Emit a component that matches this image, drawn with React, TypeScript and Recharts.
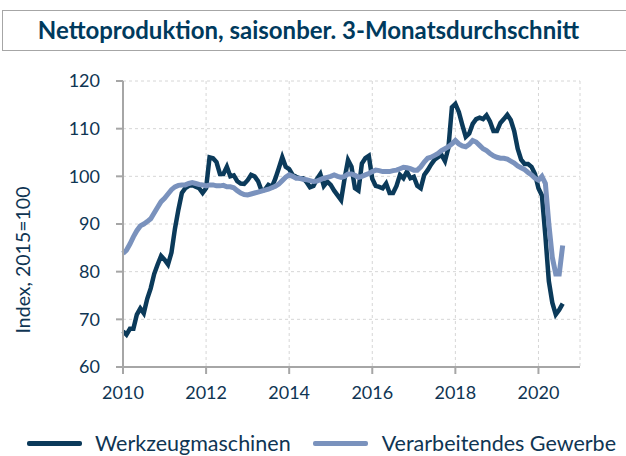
import React from 'react';
import { LineChart, Line, XAxis, YAxis, CartesianGrid } from 'recharts';

// monthly values, Jan 2010 .. Aug 2020
const werkzeugmaschinen = [
  67.5, 66.8, 68, 68, 71, 72.3, 71.3, 74.3, 76.5, 79.5, 81.5, 83.3,
  82.5, 81.5, 84, 89, 93, 96.5, 97.5, 98, 98.2, 97.8, 97.5, 96.5,
  97.5, 104, 103.8, 103, 100.5, 100.5, 102, 100, 100.2, 99, 98.5, 98.4,
  99.2, 100.3, 100, 99, 97, 97.2, 98.2, 97.8, 99.5, 101.7, 104, 102,
  101.5, 100.3, 99.9, 99.6, 99.6, 98.8, 97.7, 98, 99.4, 100.5, 98, 98.9,
  98.2, 97, 96, 95, 99.5, 103.4, 102, 97.5, 97, 102.7, 103.8, 104.3,
  99.5, 98, 97.8, 97.5, 98.5, 96.5, 96.5, 98, 100.3, 99.6, 101, 99.6,
  99.9, 98, 97.5, 100.3, 101.3, 102.5, 103.5, 104, 104.5, 103.2, 106, 114.5,
  115.2, 113.5, 110.8, 108.3, 109, 111, 112, 112.3, 112, 112.8, 111.5, 109.5,
  109.5, 111.2, 112, 112.9, 111.8, 109.5, 105.8, 103.5, 102.6, 102.6, 102, 100.5,
  97.5, 96, 87.5, 78, 73.5, 71, 72, 73.3,
];

const verarbeitendesGewerbe = [
  83.8, 84.5, 85.8, 87.3, 88.6, 89.6, 90, 90.5, 91.1, 92.3, 93.5, 94.7,
  95.4, 96.3, 97.2, 97.8, 98.1, 98.2, 98.2, 98.5, 98.7, 98.5, 98.3, 98.2,
  98, 98.2, 98.2, 98, 98, 98.1, 97.8, 97.8, 97.6, 97, 96.5, 96.2,
  96.1, 96.3, 96.5, 96.7, 96.9, 97.1, 97.3, 97.6, 97.9, 98.4, 99.1, 99.8,
  100.3, 100, 99.6, 99.6, 99.4, 99.3, 99.1, 98.9, 99, 99.3, 99.6, 99.8,
  100, 100.3, 100, 99.8, 100, 100.5, 100.5, 100.2, 99.8, 100, 100.3, 100.6,
  101, 101.3, 101.2, 101, 101, 101, 101.2, 101.3, 101.6, 101.9, 101.8, 101.6,
  101.3, 101.3, 102, 103, 103.8, 104, 104.4, 104.8, 105.4, 105.8, 106.2, 106.8,
  107.5, 106.8, 106.4, 106.2, 106.7, 107.5, 107.2, 106.5, 105.8, 105.4, 104.8, 104.3,
  104, 103.8, 103.8, 103.6, 103.2, 102.8, 102.2, 101.8, 101.4, 100.8, 100.3, 99.6,
  99.2, 100, 98.5, 90, 83, 79.5, 79.5, 85.5,
];

const yearTicks = [0, 24, 48, 72, 96, 120];
const yTicks = [60, 70, 80, 90, 100, 110, 120];

const data = werkzeugmaschinen.map((w, i) => ({
  m: i,
  werkzeug: w,
  gewerbe: verarbeitendesGewerbe[i],
}));

const NAVY = '#0b3a5a';
const LIGHT = '#7a92bd';
const TEXT = '#0f3553';
const AXIS = '#a6a6a6';
const FONT = 'Lato, "Open Sans", sans-serif';

export default function App() {
  return (
    <div style={{ position: 'absolute', left: 0, top: 0, width: 626, height: 456, background: '#fff', fontFamily: FONT }}>
      {/* title box */}
      <div
        style={{
          position: 'absolute',
          left: 2,
          top: 10,
          width: 640,
          height: 41,
          border: '1.5px solid #a6a6a6',
          boxSizing: 'border-box',
        }}
      />
      <div
        style={{
          position: 'absolute',
          left: 0,
          top: 10,
          width: 617,
          height: 40,
          lineHeight: '40px',
          textAlign: 'center',
          fontWeight: 700,
          fontSize: 24,
          color: '#003a5d',
        }}
      >
        Nettoproduktion, saisonber. 3-Monatsdurchschnitt
      </div>

      <LineChart
        width={626}
        height={456}
        data={data}
        margin={{ top: 81, right: 46, bottom: 59, left: 63 }}
        style={{ position: 'absolute', left: 0, top: 0 }}
      >
        <CartesianGrid stroke="#d6d6d6" strokeDasharray="3 3" />
        <XAxis
          dataKey="m"
          type="number"
          domain={[0, 132]}
          ticks={yearTicks}
          tickFormatter={(v: number) => String(2010 + v / 12)}
          axisLine={{ stroke: AXIS, strokeWidth: 2 }}
          tickLine={{ stroke: AXIS, strokeWidth: 2 }}
          tickSize={7}
          tickMargin={12}
          tick={{ fill: TEXT, fontSize: 18, fontFamily: FONT }}
          height={30}
          interval={0}
        />
        <YAxis
          type="number"
          domain={[60, 120]}
          ticks={yTicks}
          axisLine={{ stroke: AXIS, strokeWidth: 2 }}
          tickLine={{ stroke: AXIS, strokeWidth: 2 }}
          tickSize={7}
          tickMargin={16}
          tick={{ fill: TEXT, fontSize: 18, fontFamily: FONT }}
          width={60}
          interval={0}
        />
        <Line
          type="linear"
          dataKey="werkzeug"
          stroke={NAVY}
          strokeWidth={4.5}
          dot={false}
          isAnimationActive={false}
        />
        <Line
          type="linear"
          dataKey="gewerbe"
          stroke={LIGHT}
          strokeWidth={5}
          dot={false}
          isAnimationActive={false}
        />
      </LineChart>

      {/* y axis title */}
      <div
        style={{
          position: 'absolute',
          left: 22,
          top: 260,
          transform: 'translate(-50%, -50%) rotate(-90deg)',
          whiteSpace: 'nowrap',
          fontSize: 19.5,
          color: TEXT,
        }}
      >
        Index, 2015=100
      </div>

      {/* legend */}
      <div style={{ position: 'absolute', left: 27, top: 430, height: 26, display: 'flex', alignItems: 'center', fontSize: 21.5, color: TEXT, whiteSpace: 'nowrap' }}>
        <span style={{ display: 'inline-block', width: 55, height: 5, background: NAVY, borderRadius: 2, marginRight: 13 }} />
        <span>Werkzeugmaschinen</span>
        <span style={{ display: 'inline-block', width: 55, height: 5, background: LIGHT, borderRadius: 2, marginLeft: 22, marginRight: 14 }} />
        <span>Verarbeitendes Gewerbe</span>
      </div>
    </div>
  );
}
